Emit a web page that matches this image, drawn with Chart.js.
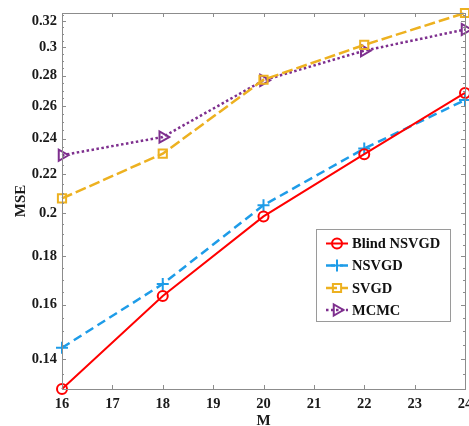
<!DOCTYPE html>
<html>
<head>
<meta charset="utf-8">
<script src="https://cdn.jsdelivr.net/npm/chart.js@4/dist/chart.umd.min.js"></script>
<style>
html,body{margin:0;padding:0;background:#fff;}
#wrap{width:469px;height:426px;position:relative;}
</style>
</head>
<body>
<div id="wrap"><canvas id="c" width="469" height="426"></canvas></div>
<script>
const M = [16, 18, 20, 22, 24];
const blindNSVGD = [0.1302, 0.1634, 0.1985, 0.2311, 0.2684];
const NSVGD = [0.1440, 0.1683, 0.2040, 0.2343, 0.2638];
const SVGD = [0.2074, 0.2314, 0.2772, 0.3018, 0.3263];
const MCMC = [0.2305, 0.2410, 0.2768, 0.2976, 0.3134];
const seriesNames = ['Blind NSVGD', 'NSVGD', 'SVGD', 'MCMC'];
const yTicks = [0.14, 0.16, 0.18, 0.2, 0.22, 0.24, 0.26, 0.28, 0.3, 0.32];
const yTickLabels = ['0.14', '0.16', '0.18', '0.2', '0.22', '0.24', '0.26', '0.28', '0.3', '0.32'];
const yMinorTicks = [0.135, 0.145, 0.15, 0.155, 0.165, 0.17, 0.175, 0.185, 0.19, 0.195,
  0.205, 0.21, 0.215, 0.225, 0.23, 0.235, 0.245, 0.25, 0.255, 0.265, 0.27, 0.275,
  0.285, 0.29, 0.295, 0.305, 0.31, 0.315, 0.325];
const xTicks = [16, 17, 18, 19, 20, 21, 22, 23, 24];

const FONT = "'Liberation Serif','Times New Roman',serif";
const AXC = '#8c8c8c';

function pts(arr){ return M.map((m,i)=>({x:m, y:arr[i]})); }

const styles = [
  {color:'#ff0000', dash:[], width:2, point:'circle', r:5, rot:0},
  {color:'#1e9ce8', dash:[9,5], width:2.5, point:'cross', r:6, rot:0},
  {color:'#edb120', dash:[11,4], width:2.5, point:'rect', r:5.8, rot:0},
  {color:'#7e2f8e', dash:[2.5,2.5], width:2.5, point:'triangle', r:6.5, rot:90}
];
const allData = [blindNSVGD, NSVGD, SVGD, MCMC];

const datasets = allData.map((d,i)=>({
  label: seriesNames[i],
  data: pts(d),
  borderColor: styles[i].color,
  backgroundColor: 'rgba(0,0,0,0)',
  borderWidth: styles[i].width,
  borderDash: styles[i].dash,
  pointStyle: styles[i].point,
  pointRadius: styles[i].r,
  pointRotation: styles[i].rot,
  pointBorderWidth: 2,
  pointBorderColor: styles[i].color,
  pointBackgroundColor: 'rgba(0,0,0,0)',
  tension: 0,
  clip: false
}));

const zeroPad = () => ({left: 0, right: 0, top: 0, bottom: 0});

const framePlugin = {
  id: 'frame',
  afterDraw(chart){
    const ctx = chart.ctx, a = chart.chartArea;
    const xs = chart.scales.x, ys = chart.scales.y;
    ctx.save();
    ctx.strokeStyle = AXC; ctx.lineWidth = 1; ctx.setLineDash([]);
    ctx.strokeRect(Math.round(a.left)+0.5, Math.round(a.top)+0.5, Math.round(a.right-a.left), Math.round(a.bottom-a.top));
    ctx.beginPath();
    xTicks.forEach(v=>{
      const x = Math.round(xs.getPixelForValue(v))+0.5;
      ctx.moveTo(x, a.bottom); ctx.lineTo(x, a.bottom-4);
      ctx.moveTo(x, a.top); ctx.lineTo(x, a.top+4);
    });
    yTicks.forEach(v=>{
      const y = Math.round(ys.getPixelForValue(v))+0.5;
      ctx.moveTo(a.left, y); ctx.lineTo(a.left+4, y);
      ctx.moveTo(a.right, y); ctx.lineTo(a.right-4, y);
    });
    yMinorTicks.forEach(v=>{
      const py = ys.getPixelForValue(v);
      if (py < a.top || py > a.bottom) return;
      const y = Math.round(py)+0.5;
      ctx.moveTo(a.left, y); ctx.lineTo(a.left+2, y);
      ctx.moveTo(a.right, y); ctx.lineTo(a.right-2, y);
    });
    ctx.stroke();

    // legend
    const bx = 316.5, by = 229.5, bw = 134, bh = 92;
    ctx.fillStyle = '#fff';
    ctx.fillRect(bx, by, bw, bh);
    ctx.strokeStyle = '#9a9a9a';
    ctx.strokeRect(bx, by, bw, bh);
    ctx.font = 'bold 14.5px ' + FONT;
    ctx.textBaseline = 'middle';
    ctx.textAlign = 'left';
    const rows = [243.5, 265.5, 288, 310];
    chart.data.datasets.forEach((ds,i)=>{
      const y = rows[i];
      ctx.strokeStyle = ds.borderColor;
      ctx.lineWidth = ds.borderWidth;
      ctx.setLineDash(ds.borderDash);
      ctx.beginPath(); ctx.moveTo(326, y); ctx.lineTo(348, y); ctx.stroke();
      ctx.setLineDash([]);
      ctx.fillStyle = 'rgba(0,0,0,0)';
      ctx.strokeStyle = ds.borderColor;
      ctx.lineWidth = 2;
      Chart.helpers.drawPoint(ctx, {
        pointStyle: ds.pointStyle, radius: ds.pointRadius, rotation: ds.pointRotation,
        borderWidth: 2
      }, 337, y);
      ctx.fillStyle = '#111';
      ctx.fillText(ds.label, 352, y+1);
    });
    ctx.restore();
  }
};

new Chart(document.getElementById('c'), {
  type: 'line',
  data: { datasets },
  options: {
    responsive: false,
    animation: false,
    devicePixelRatio: 1,
    layout: { autoPadding: false, padding: { top: 13, right: 4, left: 0, bottom: 0 } },
    plugins: { legend: { display: false }, tooltip: { enabled: false } },
    scales: {
      x: {
        type: 'linear', min: 16, max: 24,
        afterBuildTicks(s){ s.ticks = xTicks.map(v=>({value:v})); },
        afterFit(s){ s.height = 37; s.paddingLeft = 0; s.paddingRight = 0; s.getPadding = zeroPad; },
        grid: { display: false, drawTicks: false },
        border: { display: false },
        ticks: { color: '#1a1a1a', font: { family: FONT, size: 14.5, weight: 'bold' }, padding: 7, autoSkip: false, maxRotation: 0 },
        title: { display: true, text: 'M', color: '#1a1a1a', font: { family: FONT, size: 15, weight: 'bold' }, padding: { top: 0, bottom: -4 } }
      },
      y: {
        type: 'logarithmic', min: 0.1302, max: 0.3263,
        afterBuildTicks(s){ s.ticks = yTicks.map(v=>({value:v})); },
        afterFit(s){ s.width = 62; s.paddingTop = 0; s.paddingBottom = 0; s.getPadding = zeroPad; },
        grid: { display: false, drawTicks: false },
        border: { display: false },
        ticks: { color: '#1a1a1a', font: { family: FONT, size: 14.5, weight: 'bold' }, padding: 5, autoSkip: false,
          callback: (v) => { const k = yTicks.findIndex(t => Math.abs(t - v) < 1e-9); return k >= 0 ? yTickLabels[k] : ''; } },
        title: { display: true, text: 'MSE', color: '#1a1a1a', font: { family: FONT, size: 15, weight: 'bold' }, padding: { top: 12, bottom: 0 } }
      }
    }
  },
  plugins: [framePlugin]
});
</script>
</body>
</html>
